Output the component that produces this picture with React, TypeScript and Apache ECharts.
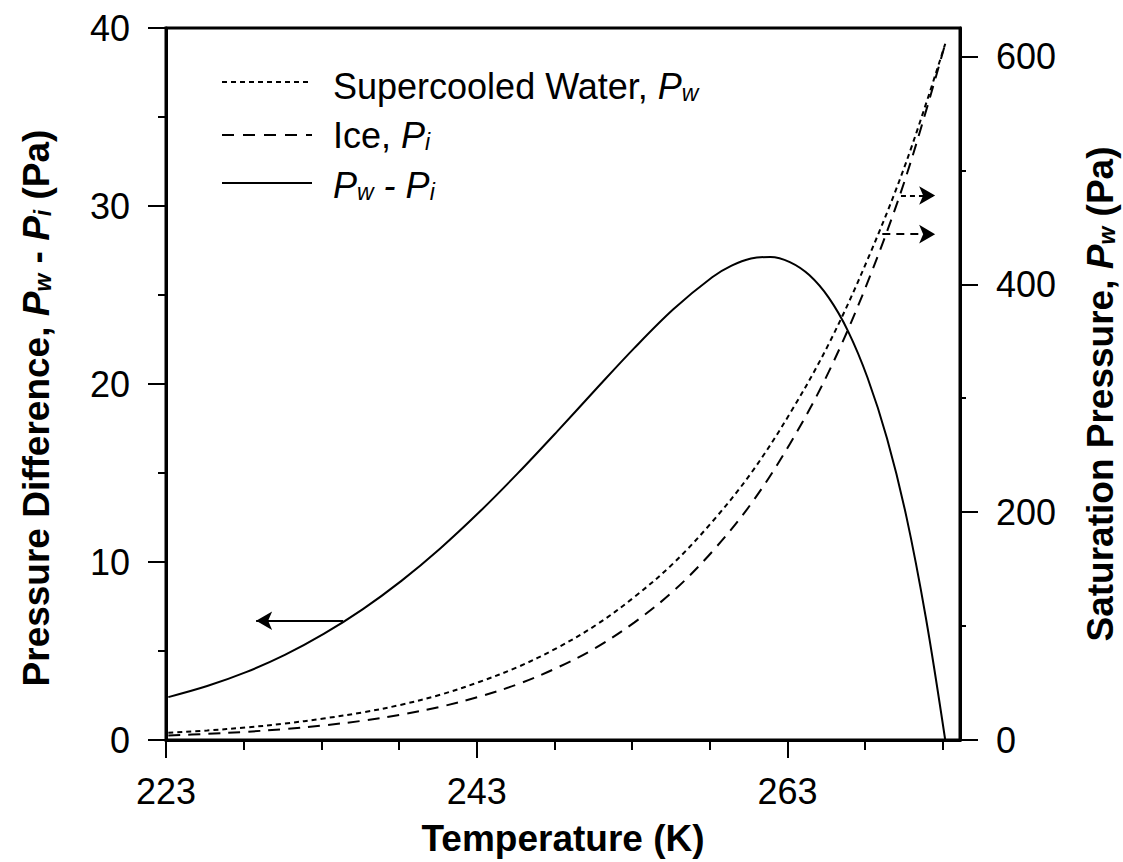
import React, { useEffect, useRef } from "react";
import * as echarts from "echarts";

// Temperature (K) and pressures (Pa)
const temps = [223.15, 225.65, 228.15, 230.65, 233.15, 235.65, 238.15, 240.65, 243.15, 245.65, 248.15, 250.65, 253.15, 255.65, 258.15, 260.65, 263.15, 265.65, 268.15, 270.65, 273.15];
const waterPa = [6.35, 8.36, 11.0, 14.42, 18.9, 24.2, 31.0, 39.7, 50.9, 64.1, 80.7, 100.7, 125.6, 155.1, 191.5, 234.2, 286.5, 347.6, 421.7, 507.7, 611.2];
const icePa = [3.94, 5.33, 7.2, 9.61, 12.84, 16.92, 22.3, 29.11, 38.0, 49.04, 63.3, 80.86, 103.3, 130.67, 165.3, 207.27, 259.9, 323.1, 401.7, 495.5, 611.2];

const diffTemps = [223.15, 225.65, 228.15, 230.65, 233.15, 235.65, 238.15, 240.65, 243.15, 245.65, 248.15, 250.65, 253.15, 255.65, 258.15, 259.4, 260.65, 261.9, 263.15, 264.4, 265.65, 266.9, 268.15, 269.4, 270.65, 271.9, 273.15];
const diffPa = [2.41, 3.03, 3.81, 4.78, 5.96, 7.34, 8.94, 10.76, 12.79, 14.99, 17.31, 19.69, 22.03, 24.2, 26.0, 26.65, 27.05, 27.14, 26.85, 26.12, 24.85, 22.96, 20.35, 16.95, 12.55, 6.88, 0];

const xMajorTicks = [223, 243, 263];
const xMinorTicks = [228, 233, 238, 248, 253, 258, 268, 273];
const leftTicksInterval = 10;
const rightMajorTicks = [0, 200, 400, 600];
const rightMinorTicks = [100, 300, 500];

// arrows (data coordinates)
const leftArrow = [[234.4, 6.7], [228.8, 6.7]];
const waterArrow = [[270.3, 478], [272.5, 478]];
const iceArrow = [[269.1, 444], [272.5, 444]];

const X_MIN = 223;
const X_MAX = 274.1;
const L_MAX = 40;
const R_MAX = 625;

const FONT = "'Liberation Sans', Arial, sans-serif";
const TICK_FS = 36;
const TITLE_FS = 37;
const LEGEND_FS = 36;

const pairs = (xs: number[], ys: number[]) => xs.map((t, i) => [t, ys[i]]);

export default function App() {
  const ref = useRef<HTMLDivElement>(null);
  useEffect(() => {
    document.body.style.margin = "0";
    if (!ref.current) return;
    const chart = echarts.init(ref.current, null, { renderer: "svg" });

    const richBold = {
      i: { fontStyle: "italic", fontWeight: "bold", fontSize: TITLE_FS, fontFamily: FONT, fill: "#000", color: "#000" },
      s: { fontStyle: "italic", fontWeight: "bold", fontSize: 23, fontFamily: FONT, fill: "#000", color: "#000", verticalAlign: "bottom", lineHeight: 24 },
      b: { fontWeight: "bold", fontSize: TITLE_FS, fontFamily: FONT, fill: "#000", color: "#000" },
    };
    const richReg = {
      i: { fontStyle: "italic", fontSize: LEGEND_FS, fontFamily: FONT, fill: "#000", color: "#000" },
      s: { fontStyle: "italic", fontSize: 23, fontFamily: FONT, fill: "#000", color: "#000", verticalAlign: "bottom", lineHeight: 24 },
    };

    const mlBase = {
      silent: true,
      symbol: ["none", "arrow"],
      symbolSize: [14, 16],
      label: { show: false },
      emphasis: { disabled: true },
    };

    const option: any = {
      animation: false,
      backgroundColor: "#fff",
      grid: {
        left: 166,
        right: 163,
        top: 28,
        bottom: 122,
        show: true,
        borderColor: "#000",
        borderWidth: 3,
        containLabel: false,
      },
      xAxis: [
        {
          type: "value",
          min: X_MIN,
          max: X_MAX,
          position: "bottom",
          axisLine: { show: true, onZero: false, lineStyle: { color: "#000", width: 3 } },
          axisTick: { show: true, customValues: xMajorTicks, length: 18, inside: false, lineStyle: { color: "#000", width: 2 } },
          axisLabel: { customValues: xMajorTicks, fontSize: TICK_FS, margin: 33, color: "#000", fontFamily: FONT },
          splitLine: { show: false },
          name: "Temperature (K)",
          nameLocation: "middle",
          nameGap: 80,
          nameTextStyle: { fontSize: TITLE_FS, fontWeight: "bold", color: "#000", fontFamily: FONT },
        },
        {
          type: "value",
          min: X_MIN,
          max: X_MAX,
          position: "bottom",
          axisLine: { show: false, onZero: false },
          axisTick: { show: true, customValues: xMinorTicks, length: 10, lineStyle: { color: "#000", width: 2 } },
          axisLabel: { show: false },
          splitLine: { show: false },
        },
      ],
      yAxis: [
        {
          type: "value",
          min: 0,
          max: L_MAX,
          interval: leftTicksInterval,
          position: "left",
          axisLine: { show: true, onZero: false, lineStyle: { color: "#000", width: 3 } },
          axisTick: { show: true, length: 18, lineStyle: { color: "#000", width: 2 } },
          minorTick: { show: true, splitNumber: 2, length: 8, lineStyle: { color: "#000", width: 2 } },
          axisLabel: { fontSize: TICK_FS, margin: 36, color: "#000", fontFamily: FONT },
          splitLine: { show: false },
          minorSplitLine: { show: false },
        },
        {
          type: "value",
          min: 0,
          max: R_MAX,
          position: "right",
          axisLine: { show: true, onZero: false, lineStyle: { color: "#000", width: 3 } },
          axisTick: { show: true, customValues: rightMajorTicks, length: 18, lineStyle: { color: "#000", width: 2 } },
          axisLabel: { customValues: rightMajorTicks, fontSize: TICK_FS, margin: 36, color: "#000", fontFamily: FONT },
          splitLine: { show: false },
        },
        {
          type: "value",
          min: 0,
          max: R_MAX,
          position: "right",
          axisLine: { show: false, onZero: false },
          axisTick: { show: true, customValues: rightMinorTicks, length: 6, lineStyle: { color: "#000", width: 2 } },
          axisLabel: { show: false },
          splitLine: { show: false },
        },
      ],
      series: [
        {
          name: "Pw - Pi",
          type: "line",
          xAxisIndex: 0,
          yAxisIndex: 0,
          data: pairs(diffTemps, diffPa),
          showSymbol: false,
          smooth: 0.35,
          lineStyle: { color: "#000", width: 2, type: "solid" },
          markLine: {
            ...mlBase,
            lineStyle: { color: "#000", width: 2, type: "solid" },
            data: [[{ coord: leftArrow[0] }, { coord: leftArrow[1] }]],
          },
        },
        {
          name: "Supercooled Water",
          type: "line",
          xAxisIndex: 0,
          yAxisIndex: 1,
          data: pairs(temps, waterPa),
          showSymbol: false,
          smooth: 0.35,
          lineStyle: { color: "#000", width: 2, type: [5, 4] },
          markLine: {
            ...mlBase,
            lineStyle: { color: "#000", width: 2, type: [5, 4] },
            data: [[{ coord: waterArrow[0] }, { coord: waterArrow[1] }]],
          },
        },
        {
          name: "Ice",
          type: "line",
          xAxisIndex: 0,
          yAxisIndex: 1,
          data: pairs(temps, icePa),
          showSymbol: false,
          smooth: 0.35,
          lineStyle: { color: "#000", width: 2, type: [12, 8] },
          markLine: {
            ...mlBase,
            lineStyle: { color: "#000", width: 2, type: [8, 6] },
            data: [[{ coord: iceArrow[0] }, { coord: iceArrow[1] }]],
          },
        },
      ],
      graphic: [
        // y-axis titles
        {
          type: "text", x: 36, y: 408, rotation: Math.PI / 2,
          style: {
            text: "{b|Pressure Difference, }{i|P}{s|w}{b| - }{i|P}{s|i}{b| (Pa)}",
            fontSize: TITLE_FS, fontWeight: "bold", fontFamily: FONT, fill: "#000",
            align: "center", verticalAlign: "middle", rich: richBold,
          },
        },
        {
          type: "text", x: 1100, y: 394, rotation: Math.PI / 2,
          style: {
            text: "{b|Saturation Pressure, }{i|P}{s|w}{b| (Pa)}",
            fontSize: TITLE_FS, fontWeight: "bold", fontFamily: FONT, fill: "#000",
            align: "center", verticalAlign: "middle", rich: richBold,
          },
        },
        // legend
        { type: "line", shape: { x1: 222, y1: 82, x2: 312, y2: 82 }, style: { stroke: "#000", lineWidth: 2, lineDash: [5, 4] } },
        { type: "line", shape: { x1: 222, y1: 135, x2: 312, y2: 135 }, style: { stroke: "#000", lineWidth: 2, lineDash: [12, 9] } },
        { type: "line", shape: { x1: 222, y1: 183, x2: 312, y2: 183 }, style: { stroke: "#000", lineWidth: 2 } },
        {
          type: "text", x: 333, y: 86,
          style: { text: "Supercooled Water, {i|P}{s|w}", fontSize: LEGEND_FS, fontFamily: FONT, fill: "#000", verticalAlign: "middle", rich: richReg },
        },
        {
          type: "text", x: 333, y: 135,
          style: { text: "Ice, {i|P}{s|i}", fontSize: LEGEND_FS, fontFamily: FONT, fill: "#000", verticalAlign: "middle", rich: richReg },
        },
        {
          type: "text", x: 333, y: 185,
          style: { text: "{i|P}{s|w}{i| - P}{s|i}", fontSize: LEGEND_FS, fontFamily: FONT, fill: "#000", verticalAlign: "middle", rich: richReg },
        },
      ],
    };
    chart.setOption(option);
    return () => chart.dispose();
  }, []);
  return <div ref={ref} style={{ width: 1123, height: 862 }} />;
}
